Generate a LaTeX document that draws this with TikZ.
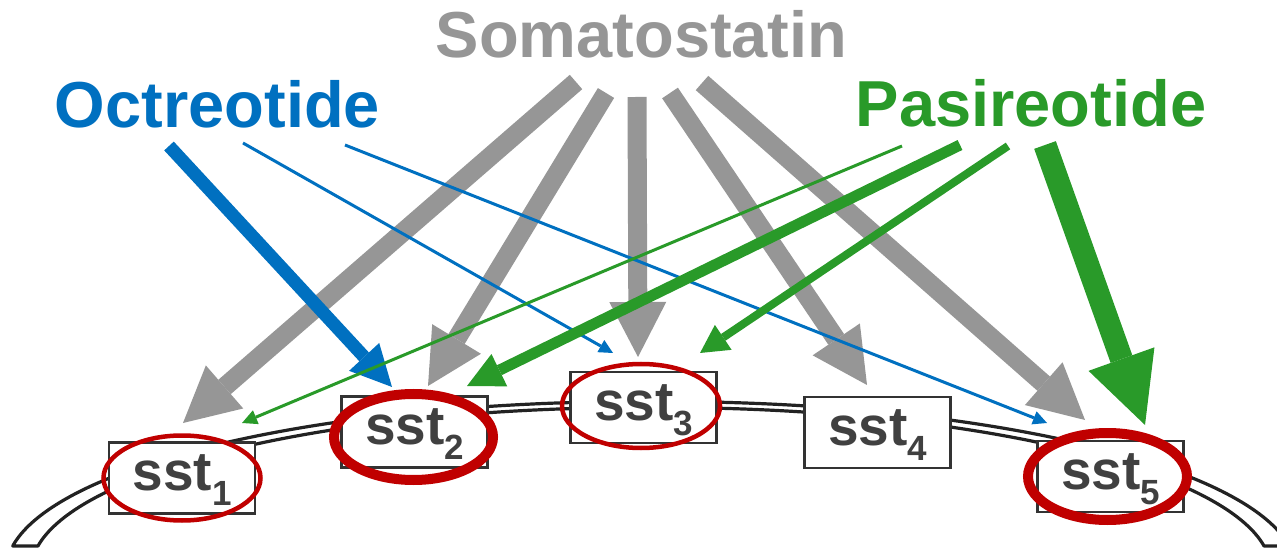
\documentclass[tikz,border=0pt]{standalone}
\usepackage{fontspec}
\setmainfont{Liberation Sans}
\usetikzlibrary{arrows.meta}

\definecolor{sgray}{RGB}{150,150,150}
\definecolor{oblue}{RGB}{0,112,192}
\definecolor{pgreen}{RGB}{41,154,41}
\definecolor{ringred}{RGB}{192,0,0}
\definecolor{boxline}{RGB}{51,51,51}
\definecolor{sstext}{RGB}{64,64,64}
\definecolor{memline}{RGB}{34,34,34}

% receptor name with a lowered subtype number
\newcommand{\sstlabel}[1]{sst\raisebox{-7.5pt}{\fontsize{17.5}{18}\selectfont #1}}

\begin{document}
\begin{tikzpicture}[x=0.5pt,y=-0.5pt,
  drug/.style={font=\fontsize{32.5}{36}\selectfont\bfseries, anchor=base, inner sep=0pt},
  receptor/.style={draw=boxline, line width=1.4pt, fill=white,
    minimum width=73pt, minimum height=35.5pt, inner sep=0pt,
    text height=24pt, text depth=11.5pt, text=sstext,
    font=\fontsize{27.5}{30}\selectfont\bfseries},
  membrane/.style={draw=memline, line width=1.6pt, fill=white, line join=round},
  thinring/.style={draw=ringred, line width=2.25pt},
  thickring/.style={draw=ringred, line width=5pt},
  natural/.style={draw=sgray, line width=9.5pt,
    -{Triangle[width=28.5pt,length=27.5pt,line width=0pt]}},
  octthick/.style={draw=oblue, line width=6.5pt,
    -{Triangle[width=20.5pt,length=20.5pt,line width=0pt]}},
  octthin/.style={draw=oblue, line width=1.5pt,
    -{Triangle[width=7pt,length=7pt,line width=0pt]}},
  pasthin/.style={draw=pgreen, line width=1.5pt,
    -{Triangle[width=7.5pt,length=7.5pt,line width=0pt]}},
  pasmid/.style={draw=pgreen, line width=5.5pt,
    -{Triangle[width=18pt,length=18pt,line width=0pt]}},
  passlim/.style={draw=pgreen, line width=4pt,
    -{Triangle[width=15pt,length=14pt,line width=0pt]}},
  pasthick/.style={draw=pgreen, line width=11.5pt,
    -{Triangle[width=35pt,length=35pt,line width=0pt]}}
]
\useasboundingbox (0,0) rectangle (1277,549);
\clip (0,0) rectangle (1277,549);

% cell membrane (double-walled band)
\path[membrane]
  plot[domain=171.67:90, samples=80] ({641+635*cos(\x)},{570.5-169*sin(\x)})
  -- plot[domain=90:8.33, samples=80] ({661+635*cos(\x)},{570.5-169*sin(\x)})
  -- plot[domain=8.64:90, samples=80] ({661+610*cos(\x)},{570.5-163*sin(\x)})
  -- plot[domain=90:171.36, samples=80] ({641+610*cos(\x)},{570.5-163*sin(\x)})
  -- cycle;

% receptor subtypes
\node[receptor] (s1) at (182,478)     {\sstlabel{1}};
\node[receptor] (s2) at (414.5,432)   {\sstlabel{2}};
\node[receptor] (s3) at (643.5,407.5) {\sstlabel{3}};
\node[receptor] (s4) at (877.5,432.5) {\sstlabel{4}};
\node[receptor] (s5) at (1110.5,476.5){\sstlabel{5}};

% highlight rings
\draw[thinring]  (s1.center) ellipse [x radius=39.25pt, y radius=21.25pt];
\draw[thickring] ([shift={(-1,5)}]s2.center) ellipse [x radius=39.75pt, y radius=21.5pt];
\draw[thinring]  ([shift={(-2.5,-1.5)}]s3.center) ellipse [x radius=39.5pt, y radius=21pt];
\draw[thickring] ([shift={(-3,0)}]s5.center) ellipse [x radius=39.75pt, y radius=21.75pt];

% ligand names
\node[drug, text=sgray]  (som) at (641.5,58) {Somatostatin};
\node[drug, text=oblue]  (oct) at (217.5,128) {Octreotide};
\node[drug, text=pgreen] (pas) at (1031,127) {Pasireotide};

% arrow tails below the ligand names
\coordinate (som1) at (576,82);
\coordinate (som2) at (606,93);
\coordinate (som3) at (637,97);
\coordinate (som4) at (670,93);
\coordinate (som5) at (702,83);
\coordinate (oct2) at (169,146);
\coordinate (oct3) at (243,143);
\coordinate (oct5) at (345,145);
\coordinate (pas1) at (902,146);
\coordinate (pas2) at (960,145);
\coordinate (pas3) at (1008,146);
\coordinate (pas5) at (1045,145);

% arrow heads above the receptors
\coordinate (s1g) at (183,423);
\coordinate (s2g) at (428,386);
\coordinate (s3g) at (638,357);
\coordinate (s4g) at (867,385);
\coordinate (s5g) at (1085,420);
\coordinate (s2b) at (392,387);
\coordinate (s3b) at (613,353);
\coordinate (s5b) at (1047,423);
\coordinate (s1p) at (242,423);
\coordinate (s2p) at (467,386);
\coordinate (s3p) at (700,353);
\coordinate (s5p) at (1145,425);

% somatostatin binds all five subtypes
\draw[natural] (som1) -- (s1g);
\draw[natural] (som2) -- (s2g);
\draw[natural] (som3) -- (s3g);
\draw[natural] (som4) -- (s4g);
\draw[natural] (som5) -- (s5g);

% octreotide
\draw[octthick] (oct2) -- (s2b);
\draw[octthin]  (oct3) -- (s3b);
\draw[octthin]  (oct5) -- (s5b);

% pasireotide
\draw[pasthin]  (pas1) -- (s1p);
\draw[pasmid]   (pas2) -- (s2p);
\draw[passlim]  (pas3) -- (s3p);
\draw[pasthick] (pas5) -- (s5p);
\end{tikzpicture}
\end{document}
